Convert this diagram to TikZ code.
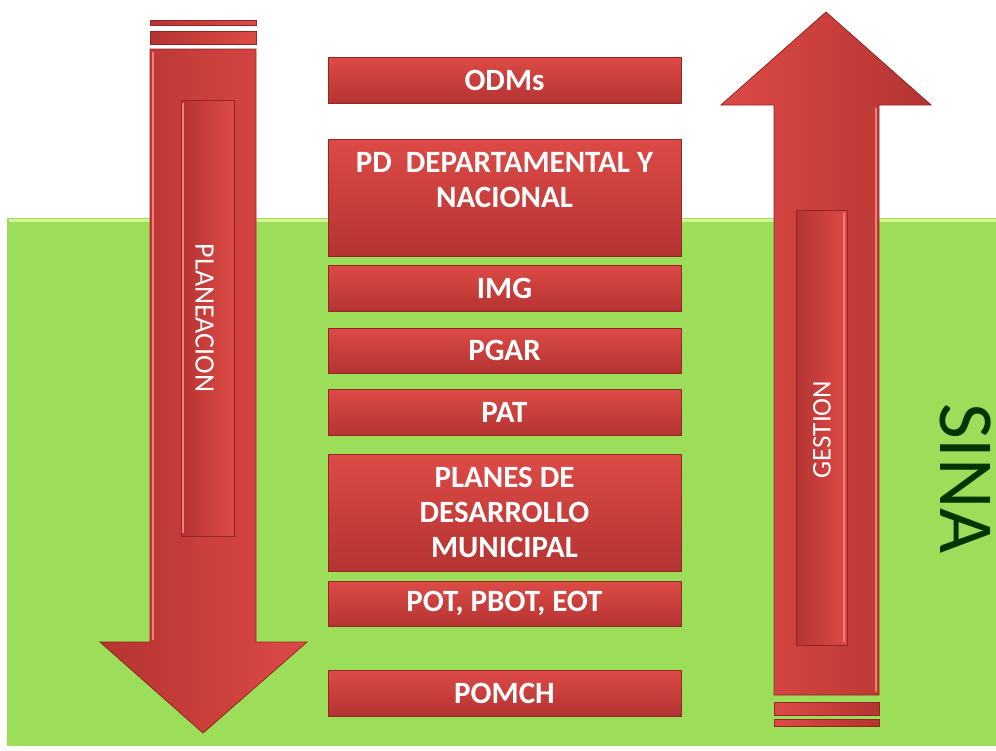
\documentclass[tikz,border=0pt]{standalone}
\usepackage{fontspec}
\setsansfont{Carlito}
\usepackage{tikz}
\definecolor{sinagreen}{RGB}{156, 222, 90}
\definecolor{sinalight}{RGB}{214, 246, 150}
\definecolor{sinadark}{RGB}{0, 52, 0}
\definecolor{redlight}{RGB}{221, 74, 70}
\definecolor{reddark}{RGB}{180, 52, 50}
\definecolor{redline}{RGB}{145, 38, 36}
\definecolor{redhigh}{RGB}{242, 128, 122}

\begin{document}
\begin{tikzpicture}[
    x=1pt, y=-1pt,
    bar/.style={draw=redline, line width=0.8pt, top color=redlight, bottom color=reddark,
        text=white, minimum width=353pt, inner sep=0pt, align=center,
        font=\sffamily\bfseries\fontsize{31}{35}\selectfont,
        path picture={\draw[redhigh, line width=2pt] (path picture bounding box.north west) -- (path picture bounding box.north east);}},
    bartext/.style={text=white, inner sep=0pt, align=center, font=\sffamily\bfseries\fontsize{31}{35}\selectfont},
    downarrow/.style={draw=redline, line width=0.8pt, left color=reddark, right color=redlight},
    uparrow/.style={draw=redline, line width=0.8pt, left color=redlight, right color=reddark},
    panel/.style={draw=redline, line width=0.8pt, left color=reddark, right color=redlight},
    sidetext/.style={text=white, inner sep=0pt, font=\sffamily\fontsize{#1}{#1}\selectfont}
]
    \useasboundingbox (0,0) rectangle (996,750);
    \fill[sinagreen] (7,218) rectangle (996,746);
    \draw[sinalight, line width=3pt] (9,220) -- (996,220);

    % planeacion (down)
    \path[downarrow] (150,49) -- (256,49) -- (256,642) -- (307,642) -- (203,733) -- (100,642) -- (150,642) -- cycle;
    \path[downarrow] (150,31) rectangle (256,44);
    \path[downarrow] (150,20) rectangle (256,25);
    \draw[redhigh, line width=2.5pt] (153,52) -- (153,640);
    \path[panel] (181,100) rectangle (234,536);
    \draw[redhigh, line width=2pt] (183,103) -- (183,533);
    \node[sidetext=28, rotate=-90] (planeacion) at (204.5,318) {PLANEACION};

    % gestion (up)
    \path[uparrow] (774,695) -- (774,105) -- (721,105) -- (826,12) -- (931,105) -- (879,105) -- (879,695) -- cycle;
    \path[uparrow] (774,702) rectangle (879,715);
    \path[uparrow] (774,719) rectangle (879,726);
    \draw[redhigh, line width=2.5pt] (876,108) -- (876,692);
    \path[panel] (796,210) rectangle (847,645);
    \draw[redhigh, line width=2pt] (844,213) -- (844,642);
    \node[sidetext=27, rotate=90] (gestion) at (822,429.5) {GESTION};

    \node[text=sinadark, inner sep=0pt, rotate=-90, font=\sffamily\fontsize{78}{80}\selectfont] (sina) at (966,478.5) {SINA};

    \foreach \name/\y/\h/\txt in {odm/80/46/ODMs, pd/197.5/117/{}, img/288/46/IMG, pgar/350.5/45/PGAR, pat/412/46/PAT,
        planes/512.5/117/{PLANES DE\\DESARROLLO\\MUNICIPAL}, pot/603.5/45/{POT, PBOT, EOT}, pomch/693/46/POMCH}
        \node[bar, minimum height=\h] (\name) at (504.5,\y) {\txt};
    \node[bartext] (pdtext) at ([yshift=17.5pt]pd.center) {PD\ \ DEPARTAMENTAL Y\\NACIONAL};
\end{tikzpicture}
\end{document}
